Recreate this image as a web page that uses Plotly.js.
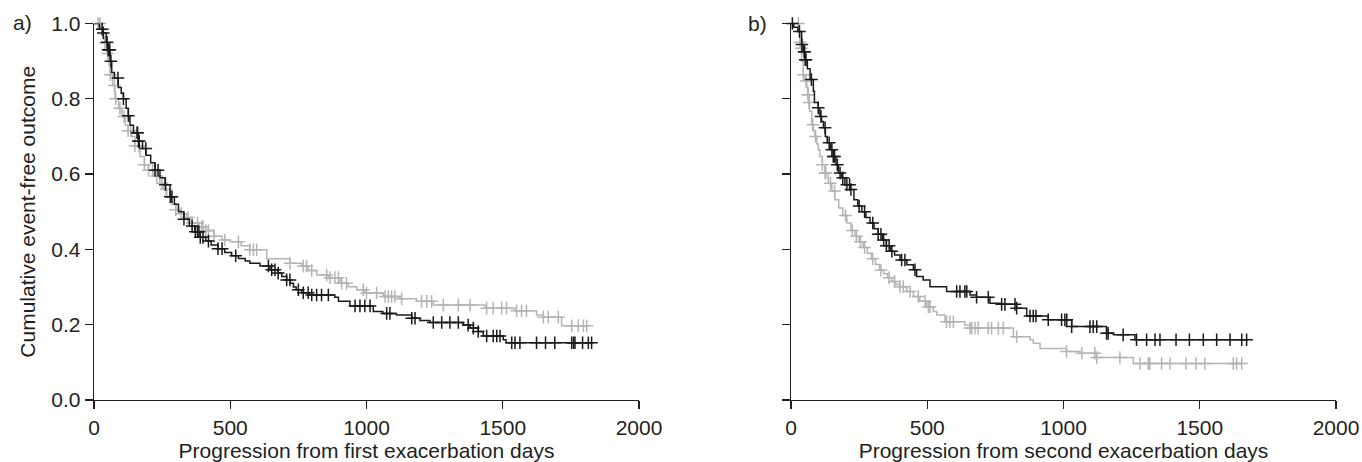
<!DOCTYPE html>
<html>
<head>
<meta charset="utf-8">
<script src="https://cdn.plot.ly/plotly-3.0.1.min.js"></script>
<style>
html,body{margin:0;padding:0;background:#fff;}
#chart{width:1362px;height:462px;}
</style>
</head>
<body>
<div id="chart"></div>
<script>
// ---------- Panel a) first exacerbation ----------
const aBlackT = [0,20,34,45,50,59,65,75,89,100,108,118,126,132,145,163,178,191,208,224,242,261,279,295,310,330,350,370,390,410,430,455,480,505,530,555,572,609,646,675,689,707,720,732,742,762,790,884,897,939,1025,1060,1110,1166,1196,1233,1355,1380,1410,1428,1502,1512];
const aBlackS = [1.0,0.985,0.975,0.95,0.93,0.90,0.87,0.855,0.83,0.815,0.80,0.775,0.755,0.73,0.71,0.687,0.668,0.65,0.63,0.61,0.59,0.572,0.54,0.52,0.50,0.48,0.462,0.447,0.432,0.422,0.412,0.402,0.392,0.383,0.376,0.369,0.363,0.356,0.346,0.337,0.328,0.319,0.31,0.30,0.293,0.285,0.279,0.273,0.262,0.25,0.235,0.23,0.226,0.217,0.211,0.206,0.199,0.191,0.182,0.17,0.16,0.152];
const aBlackCens = [30,34,48,52,55,58,62,88,108,126,158,160,163,166,190,224,235,262,280,286,330,360,372,380,385,390,400,420,455,470,520,640,652,664,676,707,719,750,768,786,799,817,835,860,958,976,994,1013,1074,1086,1166,1178,1245,1276,1306,1337,1373,1392,1410,1441,1465,1478,1490,1533,1545,1563,1624,1657,1691,1753,1760,1765,1793,1814,1826];

const aGrayT = [0,25,35,40,48,55,59,68,77,90,102,115,125,138,150,169,185,199,220,242,255,267,285,300,320,340,360,385,410,440,470,500,540,572,634,719,762,786,817,860,903,933,964,994,1062,1123,1184,1245,1435,1545,1624,1649,1716];
const aGrayS = [1.0,0.985,0.965,0.948,0.92,0.89,0.864,0.835,0.80,0.775,0.753,0.73,0.715,0.70,0.675,0.647,0.625,0.61,0.595,0.576,0.56,0.54,0.52,0.505,0.495,0.485,0.47,0.46,0.45,0.435,0.425,0.42,0.41,0.399,0.375,0.363,0.356,0.344,0.332,0.325,0.31,0.301,0.293,0.284,0.275,0.269,0.262,0.252,0.244,0.237,0.226,0.22,0.197];
const aGrayCens = [15,22,30,40,50,60,75,80,95,110,125,135,150,165,185,200,215,230,250,265,300,320,345,360,380,395,400,410,420,440,480,530,572,585,597,719,768,780,799,854,866,884,897,909,927,988,1000,1037,1068,1080,1092,1104,1129,1202,1221,1239,1282,1337,1380,1441,1465,1496,1514,1551,1569,1587,1649,1667,1704,1753,1777,1796,1808];

// ---------- Panel b) second exacerbation ----------
const bBlackT = [0,10,25,39,45,51,60,70,82,86,100,106,112,119,126,133,145,155,165,174,185,198,216,231,245,260,275,290,305,320,335,350,365,380,400,425,449,461,485,510,571,657,681,730,767,828,865,944,1030,1158,1183,1262];
const bBlackS = [1.0,0.99,0.979,0.944,0.925,0.904,0.88,0.851,0.82,0.79,0.776,0.753,0.74,0.723,0.70,0.683,0.665,0.647,0.625,0.603,0.59,0.572,0.559,0.532,0.515,0.50,0.485,0.47,0.455,0.44,0.425,0.41,0.395,0.385,0.372,0.359,0.346,0.328,0.319,0.301,0.288,0.279,0.273,0.257,0.254,0.244,0.223,0.213,0.195,0.177,0.173,0.16];
const bBlackCens = [5,31,40,48,50,52,55,75,100,110,125,140,150,155,160,170,180,190,205,215,220,250,270,300,320,330,340,350,360,370,406,418,455,608,620,638,645,681,724,773,785,822,828,877,889,899,944,993,1005,1012,1030,1097,1109,1122,1158,1164,1219,1268,1305,1336,1354,1413,1462,1513,1562,1611,1654,1672];

const bGrayT = [0,30,33,36,39,45,51,58,62,65,68,76,82,88,95,100,106,115,125,137,150,161,175,190,205,220,235,250,265,280,295,310,325,340,355,370,385,400,425,449,473,498,522,535,565,638,657,816,877,889,914,1011,1060,1121,1256];
const bGrayS = [1.0,0.98,0.95,0.934,0.90,0.864,0.847,0.83,0.811,0.79,0.767,0.731,0.715,0.70,0.68,0.665,0.647,0.625,0.603,0.576,0.555,0.532,0.51,0.49,0.47,0.45,0.435,0.42,0.405,0.39,0.375,0.36,0.345,0.335,0.325,0.315,0.307,0.301,0.288,0.275,0.262,0.248,0.235,0.226,0.208,0.199,0.191,0.168,0.16,0.151,0.137,0.129,0.124,0.113,0.097];
const bGrayCens = [27,33,38,45,55,62,64,66,80,90,115,125,128,145,160,200,225,240,255,270,300,330,360,380,400,412,437,467,492,504,510,571,583,596,657,663,675,687,724,736,761,779,828,1011,1067,1115,1122,1207,1281,1311,1317,1360,1391,1449,1486,1519,1623,1635,1654];

const xTicks = [0,500,1000,1500,2000];
const yTicks = [0,0.2,0.4,0.6,0.8,1.0];
const yTickText = ['0.0','0.2','0.4','0.6','0.8','1.0'];

// ---------- helpers ----------
function stepValue(T,S,t){let v=S[0];for(let i=0;i<T.length;i++){if(T[i]<=t)v=S[i];else break;}return v;}
function curve(T,S,cens,color,xa,ya){
  const end=Math.max(...cens, T[T.length-1]);
  const xs=T.concat([end]), ys=S.concat([S[S.length-1]]);
  return [
    {x:xs,y:ys,type:'scatter',mode:'lines',line:{shape:'hv',color:color,width:1.5},xaxis:xa,yaxis:ya,hoverinfo:'skip',showlegend:false},
    {x:cens,y:cens.map(t=>stepValue(T,S,t)),type:'scatter',mode:'markers',cliponaxis:false,
     marker:{symbol:'cross-thin',size:9,line:{color:color,width:1.5}},xaxis:xa,yaxis:ya,hoverinfo:'skip',showlegend:false}
  ];
}

const BLACK='#1a1a1a', GRAY='#b4b4b4', TXT='#231f20';
const FONT="'Liberation Sans', Arial, sans-serif";
const FS=21;

const data = [].concat(
  curve(aGrayT,aGrayS,aGrayCens,GRAY,'x','y'),
  curve(aBlackT,aBlackS,aBlackCens,BLACK,'x','y'),
  curve(bGrayT,bGrayS,bGrayCens,GRAY,'x2','y2'),
  curve(bBlackT,bBlackS,bBlackCens,BLACK,'x2','y2')
);

const W=1362,H=462;
const yDom=[(H-400)/H,(H-23.5)/H];
const axX = (dom,anchor)=>({domain:dom,anchor:anchor,range:[0,2000],tickvals:xTicks,ticktext:xTicks.map(String),
  showline:true,linecolor:TXT,linewidth:1.3,ticks:'outside',ticklen:8,tickwidth:1.3,tickcolor:TXT,
  showgrid:false,zeroline:false,tickfont:{family:FONT,size:FS,color:TXT},fixedrange:true});
const axY = (anchor,labels)=>({domain:yDom,anchor:anchor,range:[0,1],tickvals:yTicks,ticktext:yTickText,
  showticklabels:labels,showline:true,linecolor:TXT,linewidth:1.3,ticks:'outside',ticklen:8,tickwidth:1.3,tickcolor:TXT,
  showgrid:false,zeroline:false,tickfont:{family:FONT,size:FS,color:TXT},fixedrange:true});

const xa=axX([94/W,639/W],'y'); xa.title={text:'Progression from first exacerbation days',font:{family:FONT,size:FS,color:TXT},standoff:6};
const xb=axX([791/W,1336/W],'y2'); xb.title={text:'Progression from second exacerbation days',font:{family:FONT,size:FS,color:TXT},standoff:6};
const ya=axY('x',true); ya.title={text:'Cumulative event-free outcome',font:{family:FONT,size:FS,color:TXT},standoff:10};
const yb=axY('x2',false);

const layout = {
  width:W,height:H,margin:{l:0,r:0,t:0,b:0},paper_bgcolor:'#fff',plot_bgcolor:'#fff',
  font:{family:FONT,color:TXT},
  xaxis:xa,yaxis:ya,xaxis2:xb,yaxis2:yb,
  annotations:[
    {text:'a)',xref:'paper',yref:'paper',x:11/W,y:1-22/H,xanchor:'left',yanchor:'middle',showarrow:false,font:{family:FONT,size:FS,color:TXT}},
    {text:'b)',xref:'paper',yref:'paper',x:746/W,y:1-23/H,xanchor:'left',yanchor:'middle',showarrow:false,font:{family:FONT,size:FS,color:TXT}}
  ]
};
Plotly.newPlot('chart',data,layout,{staticPlot:true,displayModeBar:false});
</script>
</body>
</html>
